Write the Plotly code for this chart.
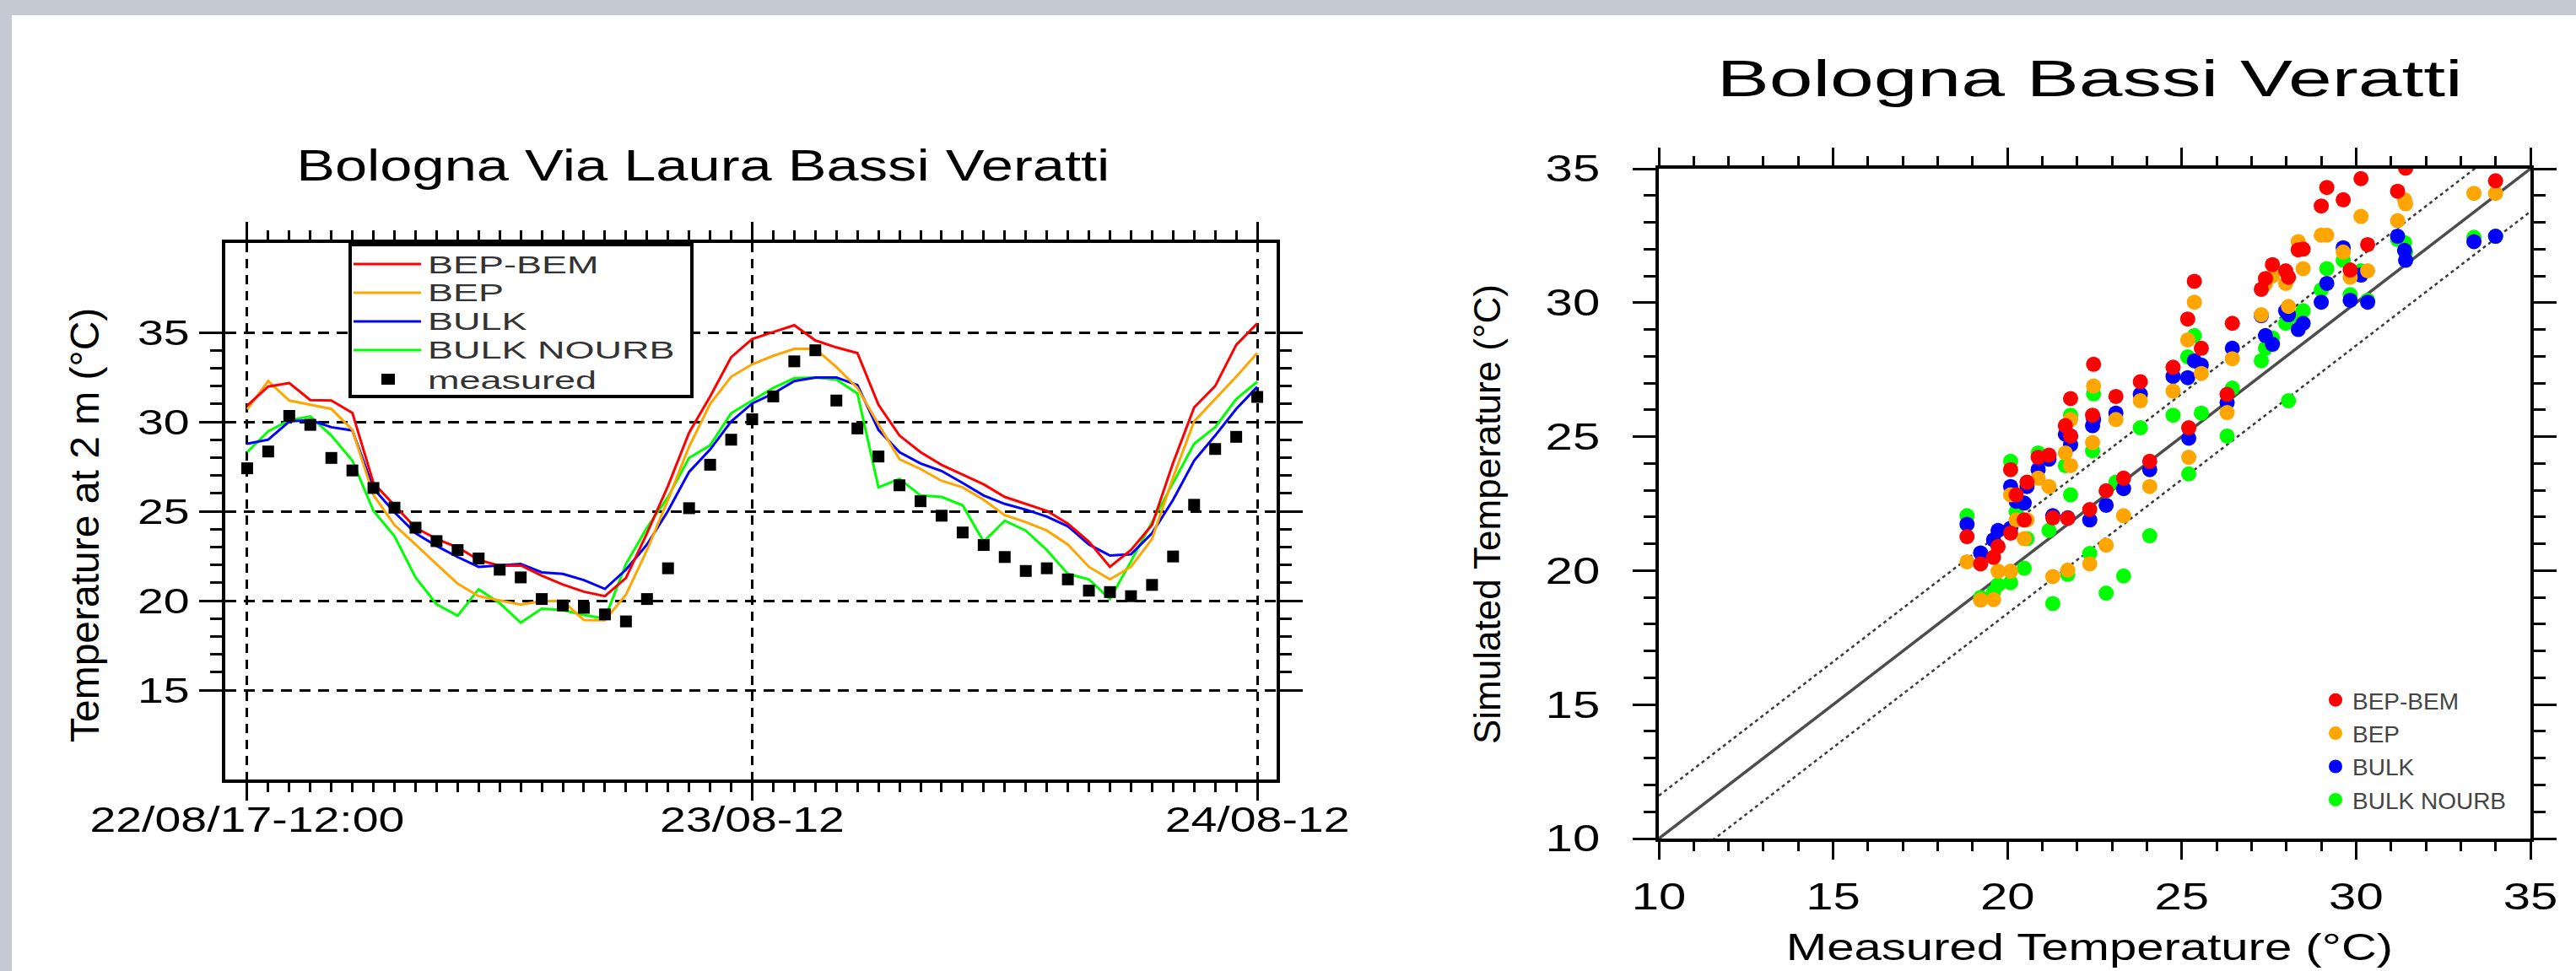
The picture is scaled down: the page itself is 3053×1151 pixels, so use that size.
import plotly.graph_objects as go

W, H = 3053, 1151

# ---------------- data (hourly, hour 0 = 22/08/17 12:00) ----------------
hours = list(range(49))
tick_hours = [0, 24, 48]
tick_text = ["22/08/17-12:00", "23/08-12", "24/08-12"]

measured = [27.4, 28.34, 30.33, 29.83, 27.98, 27.28, 26.3, 25.2, 24.08, 23.33,
            22.83, 22.36, 21.73, 21.3, 20.09, 19.73, 19.6, 19.23, 18.84, 20.09,
            21.81, 25.17, 27.6, 29.0, 30.14, 31.42, 33.38, 34.0, 31.19, 29.63,
            28.06, 26.45, 25.56, 24.75, 23.81, 23.11, 22.44, 21.66, 21.81, 21.19,
            20.56, 20.48, 20.25, 20.88, 22.47, 25.36, 28.48, 29.16, 31.39]

bep_bem = [30.9, 31.97, 32.17, 31.22, 31.19, 30.5, 26.58, 25.33, 24.08, 23.45,
           22.98, 22.28, 21.95, 21.97, 21.4, 20.9, 20.5, 20.25, 21.27, 23.77,
           26.42, 29.39, 31.42, 33.61, 34.63, 35.02, 35.4, 34.55, 34.16, 33.84,
           30.95, 29.23, 28.3, 27.59, 27.05, 26.5, 25.8, 25.41, 25.02, 24.31,
           23.3, 21.89, 22.83, 24.23, 27.7, 30.8, 32.0, 34.3, 35.5]

bep = [30.7, 32.28, 31.19, 30.95, 30.72, 29.55, 25.9, 24.23, 23.14, 22.05,
       20.95, 20.25, 20.02, 19.78, 19.98, 19.98, 18.92, 18.9, 20.33, 22.83,
       25.64, 28.61, 31.0, 32.52, 33.22, 33.69, 34.08, 34.08, 33.06, 31.89,
       29.86, 27.91, 27.36, 26.7, 26.34, 25.64, 24.78, 24.39, 23.92, 23.14,
       21.89, 21.19, 21.89, 23.45, 26.89, 30.02, 31.27, 32.52, 33.84]

bulk = [28.77, 29.0, 30.02, 30.09, 29.7, 29.52, 26.27, 24.94, 23.77, 23.06,
        22.44, 21.89, 21.97, 22.05, 21.58, 21.5, 21.15, 20.66, 21.73, 23.14,
        25.02, 27.2, 28.45, 30.02, 31.03, 31.58, 32.28, 32.48, 32.48, 32.05,
        29.55, 28.3, 27.67, 27.25, 26.58, 25.88, 25.41, 25.09, 24.7, 24.16,
        23.14, 22.52, 22.59, 23.77, 25.64, 27.83, 29.23, 30.72, 31.95]

bulk_nourb = [28.3, 29.47, 30.09, 30.3, 29.23, 27.83, 25.02, 23.61, 21.3, 19.8,
              19.16, 20.64, 19.86, 18.77, 19.55, 19.47, 19.2, 19.0, 22.05, 24.08,
              25.8, 27.98, 28.69, 30.48, 31.19, 31.89, 32.44, 32.48, 32.36, 31.58,
              26.34, 26.81, 25.88, 25.8, 25.33, 23.3, 24.47, 23.92, 22.83, 21.5,
              21.19, 20.09, 22.2, 24.39, 26.6, 28.77, 29.7, 31.27, 32.24]

series_names = ["BEP-BEM", "BEP", "BULK", "BULK NOURB"]
series_values = [bep_bem, bep, bulk, bulk_nourb]
series_colors = ["#ff0000", "#ffa500", "#0000ff", "#00ff00"]

left_yticks = [15, 20, 25, 30, 35]
right_ticks = [10, 15, 20, 25, 30, 35]
band = 1.6  # half-width of the dashed tolerance band around y = x

FONT = "Liberation Sans, Arial, Helvetica, sans-serif"

# ---------------- layout geometry (pixels) ----------------
L_X0, L_X1, L_Y0, L_Y1 = 267, 1513, 288, 924      # left plot frame
R_X0, R_X1, R_Y0, R_Y1 = 1966, 2999, 200, 994     # right plot frame


def pxx(p):
    return p / W


def pxy(p):
    return 1 - p / H


def ldx(p):
    return (p - L_X0) / (L_X1 - L_X0)


def ldy(p):
    return (L_Y1 - p) / (L_Y1 - L_Y0)


fig = go.Figure()

# ---------------- left: time series ----------------
draw_order = [3, 2, 1, 0]
for i in draw_order:
    fig.add_trace(go.Scatter(x=hours, y=series_values[i], mode="lines",
                             line=dict(color=series_colors[i], width=3),
                             name=series_names[i], showlegend=False,
                             xaxis="x", yaxis="y"))
fig.add_trace(go.Scatter(x=hours, y=measured, mode="markers",
                         marker=dict(symbol="square", size=14, color="black"),
                         name="measured", showlegend=False, xaxis="x", yaxis="y"))

# ---------------- right: scatter ----------------
ref_x = [right_ticks[0], right_ticks[-1]]
fig.add_trace(go.Scatter(x=ref_x, y=ref_x, mode="lines",
                         line=dict(color="#4d4d4d", width=3.5),
                         showlegend=False, xaxis="x2", yaxis="y2", hoverinfo="skip"))
for sgn in (1, -1):
    fig.add_trace(go.Scatter(x=ref_x, y=[v + sgn * band for v in ref_x], mode="lines",
                             line=dict(color="#3a3a3a", width=2.5, dash="4px,4px"),
                             showlegend=False, xaxis="x2", yaxis="y2", hoverinfo="skip"))
for i in draw_order:
    fig.add_trace(go.Scatter(x=measured, y=series_values[i], mode="markers",
                             marker=dict(symbol="circle", size=18, color=series_colors[i]),
                             name=series_names[i], showlegend=True,
                             xaxis="x2", yaxis="y2"))

tick_common = dict(ticks="outside", tickcolor="black", tickwidth=3, automargin=False,
                   showline=True, linecolor="black", linewidth=4, mirror="ticks",
                   zeroline=False, tickfont=dict(family=FONT, size=42, color="black"))
tick_right = {**tick_common, "tickfont": dict(family=FONT, size=44, color="black")}

minor_hours = [h for h in hours if h % 24 != 0]
minor_left_y = [v for v in range(15, 36) if v % 5 != 0]

fig.update_layout(
    template="none",
    width=W, height=H,
    margin=dict(l=0, r=0, t=0, b=0, pad=0, autoexpand=False),
    paper_bgcolor="white", plot_bgcolor="white",
    font=dict(family=FONT, color="black"),
    xaxis=dict(domain=[pxx(L_X0), pxx(L_X1)], anchor="y", range=[-1.04, 48.92],
               tickmode="array", tickvals=tick_hours, ticktext=tick_text,
               ticklen=21, ticklabelstandoff=-13,
               showgrid=True, gridcolor="black", gridwidth=3, griddash="11px,8px",
               minor=dict(tickmode="array", tickvals=minor_hours, ticks="outside",
                          ticklen=11, tickwidth=3, tickcolor="black", showgrid=False),
               **tick_common),
    yaxis=dict(domain=[pxy(L_Y1), pxy(L_Y0)], anchor="x", range=[10, 40],
               tickmode="array", tickvals=left_yticks,
               ticklen=27, ticklabelstandoff=3,
               showgrid=True, gridcolor="black", gridwidth=3, griddash="13px,9px",
               minor=dict(tickmode="array", tickvals=minor_left_y, ticks="outside",
                          ticklen=14, tickwidth=3, tickcolor="black", showgrid=False),
               **tick_common),
    xaxis2=dict(domain=[pxx(R_X0), pxx(R_X1)], anchor="y2", range=[10, 35],
                tickmode="array", tickvals=right_ticks,
                ticklen=21, ticklabelstandoff=6, showgrid=False,
                minor=dict(dtick=1, tick0=10, ticks="outside", ticklen=11, tickwidth=3,
                           tickcolor="black", showgrid=False),
                **tick_right),
    yaxis2=dict(domain=[pxy(R_Y1), pxy(R_Y0)], anchor="x2", range=[10, 35],
                tickmode="array", tickvals=right_ticks,
                ticklen=27, ticklabelstandoff=30, showgrid=False,
                minor=dict(dtick=1, tick0=10, ticks="outside", ticklen=14, tickwidth=3,
                           tickcolor="black", showgrid=False),
                **tick_right),
    legend=dict(x=pxx(2748), y=pxy(805), xanchor="left", yanchor="top",
                bgcolor="rgba(0,0,0,0)", borderwidth=0, traceorder="reversed",
                font=dict(family=FONT, size=28, color="#444444"), tracegroupgap=0),
    showlegend=True,
)

shapes = [
    # grey window frame
    dict(type="rect", xref="paper", yref="paper", x0=0, x1=1, y0=pxy(18), y1=1,
         fillcolor="#c4c9d2", line=dict(width=0), layer="below"),
    dict(type="rect", xref="paper", yref="paper", x0=0, x1=pxx(14), y0=0, y1=1,
         fillcolor="#c4c9d2", line=dict(width=0), layer="below"),
    # legend box of the left plot
    dict(type="rect", xref="x domain", yref="y domain", x0=ldx(415), x1=ldx(820),
         y0=ldy(470), y1=ldy(290), fillcolor="white", line=dict(color="black", width=4),
         layer="above"),
]
annotations = []
leg_rows = [313, 347, 381, 415, 450]
for i in range(4):
    shapes.append(dict(type="line", xref="x domain", yref="y domain",
                       x0=ldx(419), x1=ldx(499), y0=ldy(leg_rows[i]), y1=ldy(leg_rows[i]),
                       line=dict(color=series_colors[i], width=3), layer="above"))
shapes.append(dict(type="rect", xref="x domain", yref="y domain",
                   x0=ldx(452), x1=ldx(468), y0=ldy(456), y1=ldy(443),
                   fillcolor="black", line=dict(width=0), layer="above"))
for i, label in enumerate(series_names + ["measured"]):
    annotations.append(dict(text=label, xref="x domain", yref="y domain",
                            x=ldx(506), y=ldy(leg_rows[i]), xanchor="left", yanchor="middle",
                            align="left", showarrow=False, borderpad=0,
                            font=dict(family=FONT, size=30, color="#333333")))

# titles
annotations += [
    dict(text="Bologna Via Laura Bassi Veratti", xref="paper", yref="paper",
         x=pxx(833), y=pxy(196), xanchor="center", yanchor="middle", showarrow=False,
         font=dict(family=FONT, size=52, color="black")),
    dict(text="Bologna Bassi Veratti", xref="paper", yref="paper",
         x=pxx(2476), y=pxy(93), xanchor="center", yanchor="middle", showarrow=False,
         font=dict(family=FONT, size=62, color="black")),
    dict(text="Temperature at 2 m (°C)", xref="paper", yref="paper",
         x=pxx(100), y=pxy(623), xanchor="center", yanchor="middle", showarrow=False,
         textangle=-90, font=dict(family=FONT, size=48, color="black")),
    dict(text="Simulated Temperature (°C)", xref="paper", yref="paper",
         x=pxx(1762), y=pxy(610), xanchor="center", yanchor="middle", showarrow=False,
         textangle=-90, font=dict(family=FONT, size=44, color="black")),
    dict(text="Measured Temperature (°C)", xref="paper", yref="paper",
         x=pxx(2476), y=pxy(1122), xanchor="center", yanchor="middle", showarrow=False,
         font=dict(family=FONT, size=44, color="black")),
]
fig.update_layout(shapes=shapes, annotations=annotations)

# The reference text is horizontally widened; reproduce that with SVG textLength.
post_js = """
document.body.style.margin = '0';
document.body.style.overflow = 'hidden';
var gd = document.getElementById('{plot_id}');
function hasRot(el) {
  while (el && el.tagName && el.tagName.toLowerCase() !== 'svg') {
    var t = el.getAttribute && el.getAttribute('transform');
    if (t) {
      var m = t.match(/rotate\\(\\s*(-?[0-9.eE+-]+)/);
      if (m && Math.abs(parseFloat(m[1])) > 0.01) return true;
    }
    el = el.parentNode;
  }
  return false;
}
gd.querySelectorAll('text').forEach(function (t) {
  if (hasRot(t)) return;
  var cls = t.getAttribute('class') || '';
  if (cls.indexOf('legendtext') >= 0) return;
  var s = (t.textContent || '').trim();
  if (!s) return;
  var f = 1.32;
  if (s === 'Bologna Bassi Veratti') f = 1.5;
  if (cls.indexOf('annotation-text') >= 0 && t.getAttribute('text-anchor') === 'start') f = 1.5;
  var w = t.getComputedTextLength();
  if (w > 0) {
    t.setAttribute('textLength', (w * f).toFixed(1));
    t.setAttribute('lengthAdjust', 'spacingAndGlyphs');
  }
});
"""

fig.write_html("out.html", include_plotlyjs=True, post_script=post_js,
               config={"responsive": False, "displayModeBar": False, "staticPlot": True})
